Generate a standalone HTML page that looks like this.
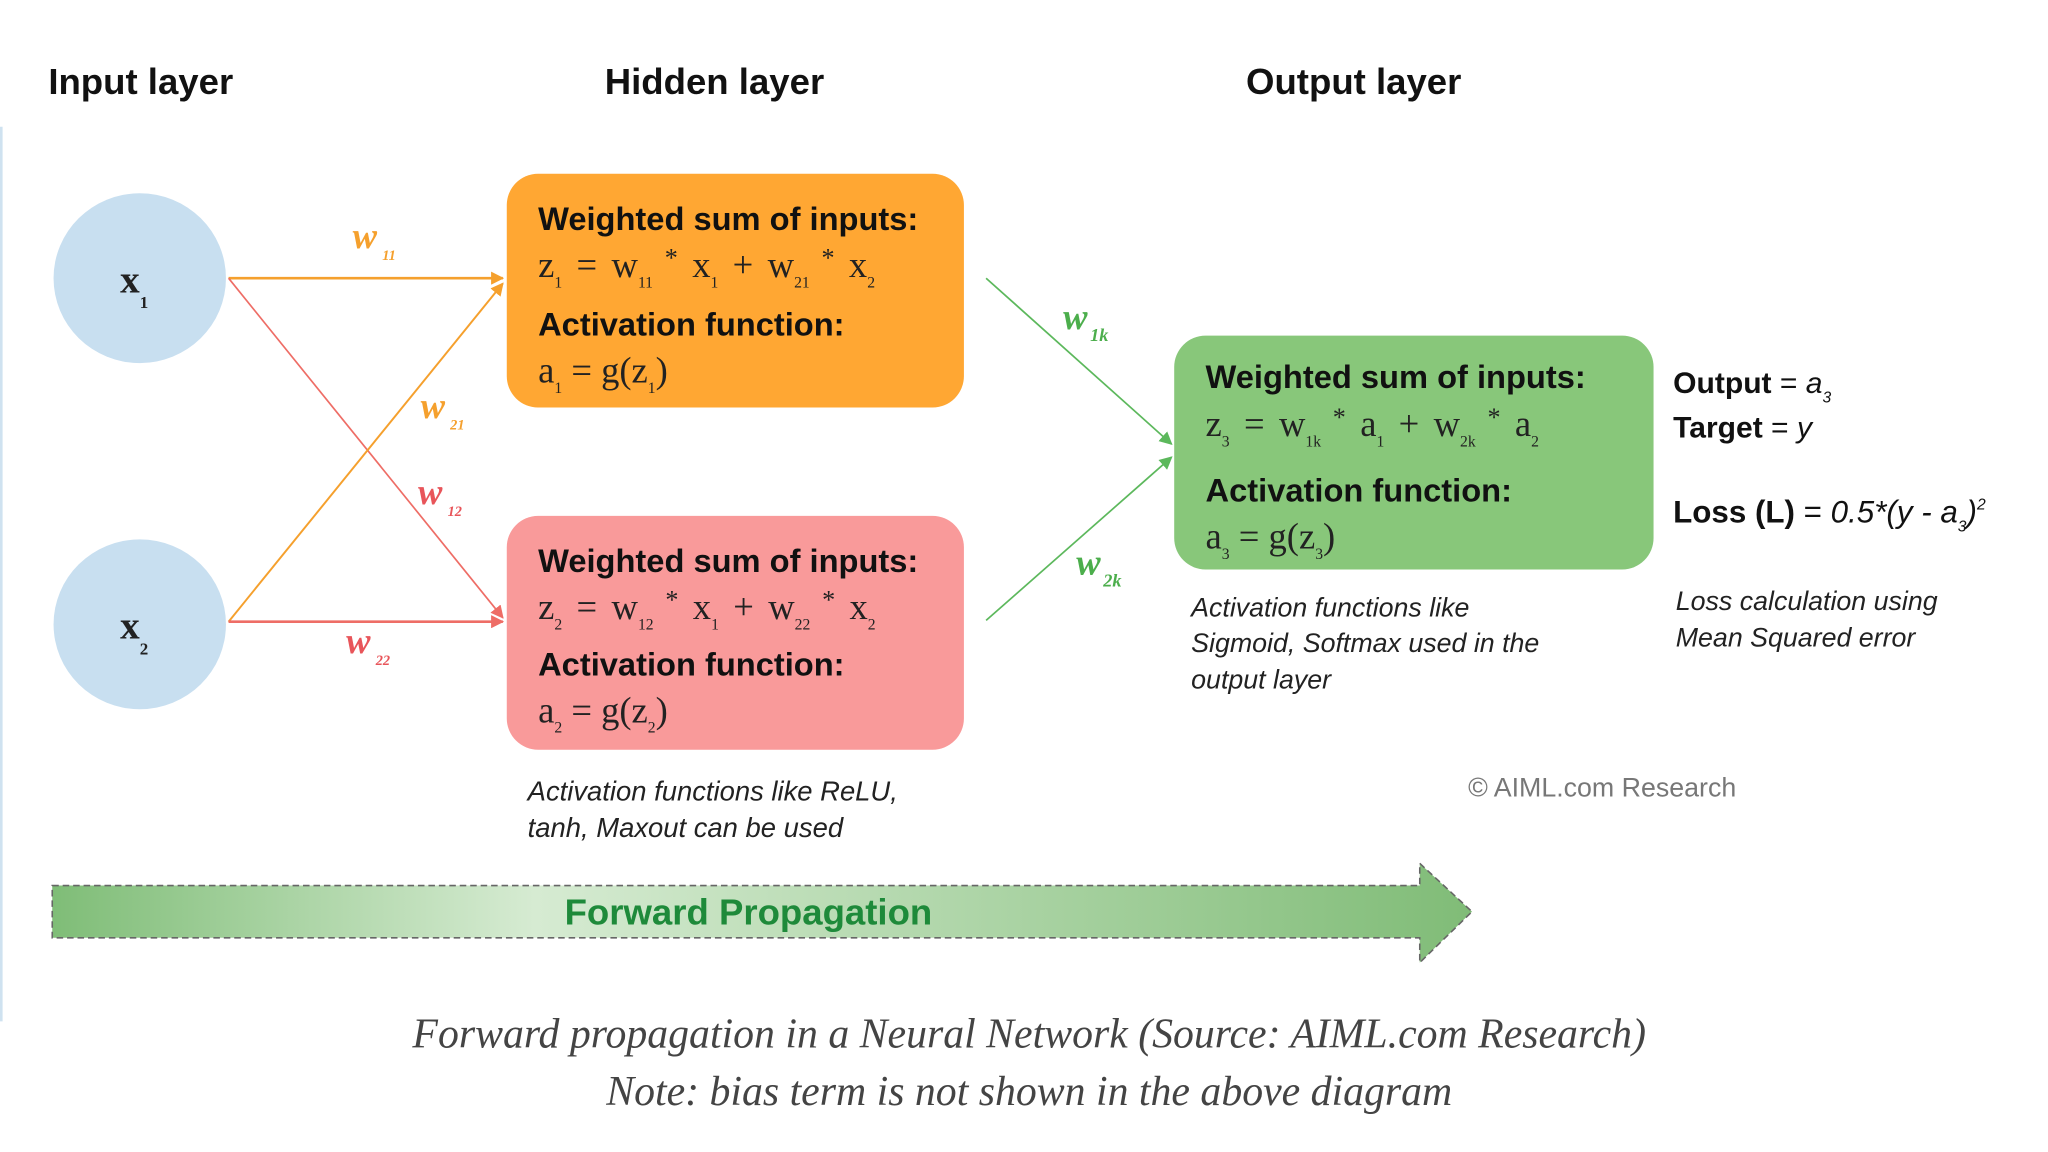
<!DOCTYPE html>
<html><head><meta charset="utf-8"><style>
html,body{margin:0;padding:0;background:#fff;}
svg{display:block;}
.h{font-family:"Liberation Sans",sans-serif;font-weight:bold;fill:#111;}
.m{font-family:"Liberation Serif",serif;fill:#222;}
.it{font-family:"Liberation Sans",sans-serif;font-style:italic;fill:#222;}
.w{font-family:"Liberation Serif",serif;font-style:italic;font-weight:bold;}
</style></head><body>
<svg width="2048" height="1152" viewBox="0 0 1568 882" xmlns="http://www.w3.org/2000/svg">
<defs>
<linearGradient id="g" x1="0" x2="1" y1="0" y2="0">
<stop offset="0" stop-color="#7fbd77"/>
<stop offset="0.34" stop-color="#d6ebd2"/>
<stop offset="1" stop-color="#80bc77"/>
</linearGradient>
<marker id="ao" markerWidth="10" markerHeight="10" refX="9" refY="5" orient="auto" markerUnits="userSpaceOnUse"><path d="M0,0 L10,5 L0,10 z" fill="#f5a02d"/></marker>
<marker id="ar" markerWidth="10" markerHeight="10" refX="9" refY="5" orient="auto" markerUnits="userSpaceOnUse"><path d="M0,0 L10,5 L0,10 z" fill="#ee6d66"/></marker>
<marker id="ag" markerWidth="10" markerHeight="10" refX="9" refY="5" orient="auto" markerUnits="userSpaceOnUse"><path d="M0,0 L10,5 L0,10 z" fill="#5cb85c"/></marker>
</defs>
<line x1="1" y1="97" x2="1" y2="782" stroke="#cfe2f0" stroke-width="2"/>
<text class="h" x="37" y="72" font-size="28">Input layer</text>
<text class="h" x="463" y="72" font-size="28">Hidden layer</text>
<text class="h" x="954" y="72" font-size="28">Output layer</text>

<ellipse cx="107" cy="213" rx="66" ry="65" fill="#c8dff0"/>
<ellipse cx="107" cy="478" rx="66" ry="65" fill="#c8dff0"/>
<text class="m" x="92" y="224" font-size="30" font-weight="bold" fill="#111">x<tspan font-size="13" dy="12">1</tspan></text>
<text class="m" x="92" y="489" font-size="30" font-weight="bold" fill="#111">x<tspan font-size="13" dy="12">2</tspan></text>

<line x1="175" y1="213" x2="385" y2="213" stroke="#f5a02d" stroke-width="2" marker-end="url(#ao)"/>
<line x1="175" y1="213" x2="385" y2="473" stroke="#ee6d66" stroke-width="1.3" marker-end="url(#ar)"/>
<line x1="175" y1="476" x2="385" y2="217" stroke="#f5a02d" stroke-width="1.5" marker-end="url(#ao)"/>
<line x1="175" y1="476" x2="385" y2="476" stroke="#ee6d66" stroke-width="2" marker-end="url(#ar)"/>
<line x1="755" y1="213" x2="897" y2="340" stroke="#5cb85c" stroke-width="1.3" marker-end="url(#ag)"/>
<line x1="755" y1="475" x2="897" y2="350" stroke="#5cb85c" stroke-width="1.3" marker-end="url(#ag)"/>

<text class="w" x="270" y="190" font-size="28" fill="#f5a02d">w<tspan font-size="11" dx="4" dy="9">11</tspan></text>
<text class="w" x="322" y="320" font-size="28" fill="#f5a02d">w<tspan font-size="11" dx="4" dy="9">21</tspan></text>
<text class="w" x="320" y="386" font-size="28" fill="#e8555a">w<tspan font-size="11" dx="4" dy="9">12</tspan></text>
<text class="w" x="265" y="500" font-size="28" fill="#e8555a">w<tspan font-size="11" dx="4" dy="9">22</tspan></text>
<text class="w" x="814" y="252" font-size="28" fill="#4cae4c">w<tspan font-size="14" dx="2" dy="9">1k</tspan></text>
<text class="w" x="824" y="440" font-size="28" fill="#4cae4c">w<tspan font-size="14" dx="2" dy="9">2k</tspan></text>

<rect x="388" y="133" width="350" height="179" rx="24" fill="#ffa733"/>
<text class="h" x="412" y="176" font-size="25">Weighted sum of inputs:</text>
<text class="m" x="412" y="212" font-size="28" word-spacing="4">z<tspan font-size="12" dy="8">1</tspan><tspan dy="-8"> = w</tspan><tspan font-size="12" dy="8">11</tspan><tspan dy="-16" font-size="20"> *</tspan><tspan dy="8"> x</tspan><tspan font-size="12" dy="8">1</tspan><tspan dy="-8"> + w</tspan><tspan font-size="12" dy="8">21</tspan><tspan dy="-16" font-size="20"> *</tspan><tspan dy="8"> x</tspan><tspan font-size="12" dy="8">2</tspan></text>
<text class="h" x="412" y="257" font-size="25">Activation function:</text>
<text class="m" x="412" y="293" font-size="28">a<tspan font-size="12" dy="8">1</tspan><tspan dy="-8"> = g(z</tspan><tspan font-size="12" dy="8">1</tspan><tspan dy="-8">)</tspan></text>

<rect x="388" y="395" width="350" height="179" rx="24" fill="#f99a9a"/>
<text class="h" x="412" y="438" font-size="25">Weighted sum of inputs:</text>
<text class="m" x="412" y="474" font-size="28" word-spacing="4">z<tspan font-size="12" dy="8">2</tspan><tspan dy="-8"> = w</tspan><tspan font-size="12" dy="8">12</tspan><tspan dy="-16" font-size="20"> *</tspan><tspan dy="8"> x</tspan><tspan font-size="12" dy="8">1</tspan><tspan dy="-8"> + w</tspan><tspan font-size="12" dy="8">22</tspan><tspan dy="-16" font-size="20"> *</tspan><tspan dy="8"> x</tspan><tspan font-size="12" dy="8">2</tspan></text>
<text class="h" x="412" y="517" font-size="25">Activation function:</text>
<text class="m" x="412" y="553" font-size="28">a<tspan font-size="12" dy="8">2</tspan><tspan dy="-8"> = g(z</tspan><tspan font-size="12" dy="8">2</tspan><tspan dy="-8">)</tspan></text>

<rect x="899" y="257" width="367" height="179" rx="24" fill="#88c77a"/>
<text class="h" x="923" y="297" font-size="25">Weighted sum of inputs:</text>
<text class="m" x="923" y="334" font-size="28" word-spacing="4">z<tspan font-size="12" dy="8">3</tspan><tspan dy="-8"> = w</tspan><tspan font-size="12" dy="8">1k</tspan><tspan dy="-16" font-size="20"> *</tspan><tspan dy="8"> a</tspan><tspan font-size="12" dy="8">1</tspan><tspan dy="-8"> + w</tspan><tspan font-size="12" dy="8">2k</tspan><tspan dy="-16" font-size="20"> *</tspan><tspan dy="8"> a</tspan><tspan font-size="12" dy="8">2</tspan></text>
<text class="h" x="923" y="384" font-size="25">Activation function:</text>
<text class="m" x="923" y="420" font-size="28">a<tspan font-size="12" dy="8">3</tspan><tspan dy="-8"> = g(z</tspan><tspan font-size="12" dy="8">3</tspan><tspan dy="-8">)</tspan></text>

<text class="h" x="1281" y="301" font-size="23">Output <tspan font-weight="normal">= <tspan font-style="italic">a</tspan></tspan><tspan font-weight="normal" font-style="italic" font-size="12" dy="7">3</tspan></text>
<text class="h" x="1281" y="335" font-size="23">Target <tspan font-weight="normal">= <tspan font-style="italic">y</tspan></tspan></text>
<text class="h" x="1281" y="400" font-size="24">Loss (L) <tspan font-weight="normal">= <tspan font-style="italic">0.5*(y - a</tspan></tspan><tspan font-weight="normal" font-style="italic" font-size="12" dy="7">3</tspan><tspan font-weight="normal" font-style="italic" dy="-7">)</tspan><tspan font-weight="normal" font-style="italic" font-size="12" dy="-10">2</tspan></text>

<text class="it" x="912" y="472" font-size="20.5">Activation functions like</text>
<text class="it" x="912" y="499" font-size="20.5">Sigmoid, Softmax used in the</text>
<text class="it" x="912" y="527" font-size="20.5">output layer</text>
<text class="it" x="1283" y="467" font-size="20.5">Loss calculation using</text>
<text class="it" x="1283" y="495" font-size="20.5">Mean Squared error</text>
<text class="it" x="404" y="613" font-size="21">Activation functions like ReLU,</text>
<text class="it" x="404" y="641" font-size="21">tanh, Maxout can be used</text>
<text x="1124" y="610" font-size="20.5" font-family="Liberation Sans,sans-serif" fill="#777">© AIML.com Research</text>

<path d="M40,678 L1087,678 L1087,661 L1127,698 L1087,737 L1087,718 L40,718 Z" fill="url(#g)" stroke="#666" stroke-width="1.2" stroke-dasharray="5,3"/>
<text x="573" y="708" text-anchor="middle" font-size="28" font-weight="bold" font-family="Liberation Sans,sans-serif" fill="#1e8a3a">Forward Propagation</text>

<text x="788" y="802" text-anchor="middle" font-size="32" font-style="italic" font-family="Liberation Serif,serif" fill="#444">Forward propagation in a Neural Network (Source: AIML.com Research)</text>
<text x="788" y="846" text-anchor="middle" font-size="32" font-style="italic" font-family="Liberation Serif,serif" fill="#444">Note: bias term is not shown in the above diagram</text>
</svg>
</body></html>
